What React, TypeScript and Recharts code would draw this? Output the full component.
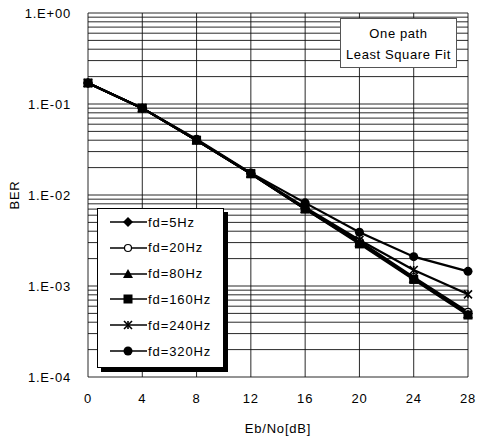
import { LineChart, Line, XAxis, YAxis, CartesianGrid } from "recharts";

const snr = [0, 4, 8, 12, 16, 20, 24, 28];
const fd5 = [0.17, 0.09, 0.04, 0.0172, 0.0071, 0.003, 0.00122, 0.0005];
const fd20 = [0.17, 0.09, 0.04, 0.0172, 0.0071, 0.0031, 0.00125, 0.00052];
const fd80 = [0.17, 0.09, 0.04, 0.0171, 0.007, 0.003, 0.0012, 0.00049];
const fd160 = [0.17, 0.09, 0.04, 0.0171, 0.007, 0.0029, 0.00118, 0.00048];
const fd240 = [0.17, 0.09, 0.04, 0.0173, 0.0073, 0.0032, 0.0015, 0.00081];
const fd320 = [0.17, 0.09, 0.041, 0.0175, 0.0082, 0.0039, 0.0021, 0.00145];

const xTicks = [0, 4, 8, 12, 16, 20, 24, 28];
const decades = [1e-4, 1e-3, 1e-2, 1e-1, 1];
const yTicks = decades.flatMap((d) => (d === 1 ? [1] : [1, 2, 3, 4, 5, 6, 7, 8, 9].map((m) => m * d)));
const decadeLabels: Record<string, string> = {
  "0.0001": "1.E-04",
  "0.001": "1.E-03",
  "0.01": "1.E-02",
  "0.1": "1.E-01",
  "1": "1.E+00",
};

const seriesNames = ["fd=5Hz", "fd=20Hz", "fd=80Hz", "fd=160Hz", "fd=240Hz", "fd=320Hz"];
const seriesValues = [fd5, fd20, fd80, fd160, fd240, fd320];
const markers = ["diamond", "open", "triangle", "square", "star", "circle"];

const data = snr.map((x, i) => {
  const row: Record<string, number> = { x };
  seriesNames.forEach((n, k) => (row[n] = seriesValues[k][i]));
  return row;
});

const font = "'Liberation Sans', Arial, sans-serif";

function Marker({ kind, cx, cy }: { kind: string; cx: number; cy: number }) {
  switch (kind) {
    case "diamond":
      return <path d={`M${cx},${cy - 5}L${cx + 5},${cy}L${cx},${cy + 5}L${cx - 5},${cy}Z`} fill="#000" />;
    case "open":
      return <circle cx={cx} cy={cy} r={3.5} fill="#fff" stroke="#000" strokeWidth={1.2} />;
    case "triangle":
      return <path d={`M${cx},${cy - 5}L${cx + 5},${cy + 4}L${cx - 5},${cy + 4}Z`} fill="#000" />;
    case "square":
      return <rect x={cx - 4.5} y={cy - 4.5} width={9} height={9} fill="#000" />;
    case "star":
      return (
        <g stroke="#000" strokeWidth={1.6}>
          <line x1={cx - 4} y1={cy - 4} x2={cx + 4} y2={cy + 4} />
          <line x1={cx - 4} y1={cy + 4} x2={cx + 4} y2={cy - 4} />
          <line x1={cx} y1={cy - 4} x2={cx} y2={cy + 4} />
        </g>
      );
    default:
      return <circle cx={cx} cy={cy} r={4.5} fill="#000" />;
  }
}

const YTick = (props: any) => {
  const { x, y, payload } = props;
  const label = decadeLabels[String(payload.value)];
  if (!label) return <g />;
  return (
    <text x={x} y={y} dy={5} textAnchor="end" fontSize={13} letterSpacing={0.8} fontFamily={font} fill="#000">
      {label}
    </text>
  );
};

export default function App() {
  return (
    <div style={{ position: "absolute", left: 0, top: 0, width: 477, height: 441, background: "#fff" }}>
      <LineChart width={477} height={441} data={data} margin={{ top: 13, right: 9, left: 0, bottom: 0 }}>
        <CartesianGrid stroke="#111" strokeWidth={0.9} />
        <XAxis
          dataKey="x"
          type="number"
          domain={[0, 28]}
          ticks={xTicks}
          height={64}
          axisLine={false}
          tickLine={false}
          tickMargin={11}
          tick={{ fontSize: 13, fill: "#000", fontFamily: font, letterSpacing: 0.8 }}
          label={(p: any) => {
            const vb = p.viewBox;
            return (
              <text x={vb.x + vb.width / 2} y={433} textAnchor="middle" fontSize={13} letterSpacing={0.8} fontFamily={font} fill="#000">
                Eb/No[dB]
              </text>
            );
          }}
        />
        <YAxis
          type="number"
          scale="log"
          domain={[1e-4, 1]}
          ticks={yTicks}
          interval={0}
          allowDataOverflow
          width={88}
          axisLine={false}
          tickLine={false}
          tickMargin={11}
          tick={<YTick />}
          label={() => (
            <text x={19} y={195} transform="rotate(-90 19 195)" textAnchor="middle" fontSize={13} letterSpacing={0.8} fontFamily={font} fill="#000">
              BER
            </text>
          )}
        />
        {seriesNames.map((n, k) => (
          <Line
            key={n}
            dataKey={n}
            stroke="#000"
            strokeWidth={2.2}
            isAnimationActive={false}
            dot={(p: any) => <Marker key={`${n}-${p.index}`} kind={markers[k]} cx={p.cx} cy={p.cy} />}
          />
        ))}
      </LineChart>
      <div
        style={{
          position: "absolute",
          left: 340,
          top: 18,
          width: 117,
          height: 50,
          border: "1px solid #555",
          background: "#fff",
          fontFamily: font,
          fontSize: 13,
          letterSpacing: 0.6,
          textAlign: "center",
          lineHeight: "21px",
          paddingTop: 4,
          boxSizing: "border-box",
        }}
      >
        One path
        <br />
        Least Square Fit
      </div>
      <div
        style={{
          position: "absolute",
          left: 97,
          top: 208,
          width: 127,
          height: 160,
          border: "1px solid #000",
          background: "#fff",
          boxShadow: "4px 4px 0 #000",
          boxSizing: "border-box",
          fontFamily: font,
          fontSize: 13,
          letterSpacing: 0.9,
        }}
      >
        {seriesNames.map((n, k) => (
          <div key={n} style={{ position: "absolute", left: 12, top: 3 + k * 25.8, height: 20, display: "flex", alignItems: "center" }}>
            <svg width={37} height={14}>
              <line x1={0} y1={7} x2={37} y2={7} stroke="#000" strokeWidth={1.5} />
              <Marker kind={markers[k]} cx={18} cy={7} />
            </svg>
            <span style={{ marginLeft: 1 }}>{n}</span>
          </div>
        ))}
      </div>
    </div>
  );
}
